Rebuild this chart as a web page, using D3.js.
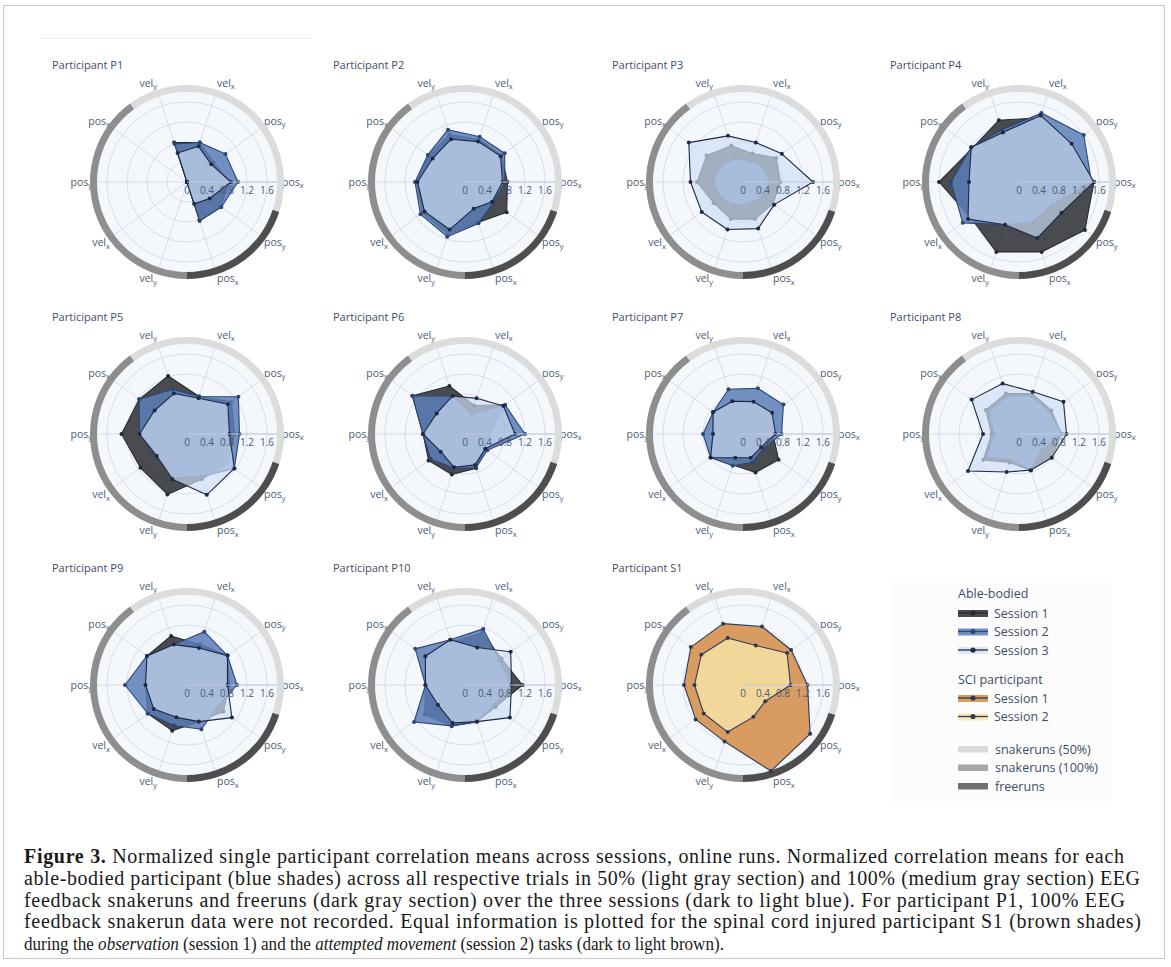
<!DOCTYPE html>
<html>
<head>
<meta charset="utf-8">
<script src="https://cdn.jsdelivr.net/npm/d3@7"></script>
<style>
  body { margin: 0; background: #ffffff; }
  svg { display: block; }
</style>
</head>
<body>
<svg id="fig" width="1171" height="967"></svg>
<script>
// ---- angular categories (10 spokes, counter-clockwise from east) ----
const axisVars = ['pos', 'pos', 'vel', 'vel', 'pos', 'pos', 'vel', 'vel', 'pos', 'pos'];
const axisDims = ['x', 'y', 'x', 'y', 'x', 'y', 'x', 'y', 'x', 'y'];

// run-type sections around the rim: [first index, last index]
const sectionNames = ['snakeruns (50%)', 'snakeruns (100%)', 'freeruns'];
const sectionSpans = [[0, 3], [4, 7], [8, 9]];

// radial axis
const radialMax = 1.8;
const radialTicks = [0, 0.4, 0.8, 1.2, 1.6];

// able-bodied participants
const participants = ['P1', 'P2', 'P3', 'P4', 'P5', 'P6', 'P7', 'P8', 'P9', 'P10'];

const session1 = [
  [0.85, 0.66, 0.83, 0.83, 0, 0, 0, 0, 0.80, 0.84],
  [0.85, 0.90, 0.90, 1.00, 0.90, 0.97, 1.05, 1.10, 0.85, 1.03],
  [0.75, 0.82, 0.60, 0.76, 0.90, 0.92, 0.72, 0.78, 0.78, 0.74],
  [1.50, 1.25, 1.35, 1.30, 1.15, 1.60, 1.20, 1.47, 1.47, 1.63],
  [0.95, 1.10, 0.79, 1.22, 1.18, 1.31, 1.15, 1.27, 0.95, 1.00],
  [0.50, 0.99, 0.60, 1.01, 1.30, 0.84, 0.90, 0.85, 0.72, 0.50],
  [0.60, 0.70, 0.68, 0.69, 0.74, 0.60, 0.80, 0.65, 0.81, 0.88],
  [0.85, 0.80, 0.85, 0.85, 0.82, 0.55, 0.88, 0.60, 0.76, 0.80],
  [0.85, 1.00, 0.85, 1.03, 0.99, 0.83, 0.97, 0.96, 0.77, 0.90],
  [1.15, 0.90, 1.10, 0.90, 0.98, 0.79, 1.00, 0.86, 0.77, 0.75]
];
const session2 = [
  [1.02, 0.95, 0.83, 0.80, 0, 0, 0, 0, 0.82, 0.85],
  [0.80, 0.98, 0.95, 1.10, 0.92, 1.00, 1.10, 1.15, 0.87, 0.70],
  [0.55, 0.50, 0.45, 0.50, 0.55, 0.60, 0.55, 0.50, 0.45, 0.50],
  [1.45, 1.60, 1.45, 1.10, 1.18, 1.36, 1.39, 0.90, 0.85, 0.80],
  [1.05, 1.27, 0.79, 0.94, 1.18, 0.95, 0.73, 0.92, 0.90, 1.17],
  [1.20, 0.99, 0.42, 0.80, 1.30, 0.84, 0.85, 0.72, 0.71, 0.55],
  [0.77, 1.00, 0.96, 0.94, 0.74, 0.80, 0.80, 0.67, 0.60, 0.50],
  [0.87, 0.75, 0.80, 0.80, 0.75, 0.50, 0.80, 0.55, 0.76, 0.55],
  [1.00, 1.00, 1.12, 0.85, 0.99, 1.24, 0.97, 0.85, 0.93, 0.75],
  [0.93, 0.85, 1.18, 0.95, 1.23, 0.79, 1.26, 0.86, 0.77, 0.70]
];
const session3 = [
  [0.88, 0.60, 0.75, 0.61, 0, 0, 0, 0, 0.46, 0.56],
  [0.75, 0.88, 0.85, 0.90, 0.80, 0.95, 1.00, 1.00, 0.56, 0.67],
  [1.40, 0.96, 0.83, 0.97, 1.34, 1.05, 1.02, 1.00, 0.98, 0.77],
  [1.50, 1.30, 1.40, 1.04, 1.18, 1.00, 1.26, 0.90, 1.18, 1.05],
  [0.85, 1.01, 0.75, 0.85, 0.80, 0.95, 0.75, 0.95, 1.28, 1.17],
  [1.00, 0.95, 0.75, 0.80, 0.70, 0.84, 0.60, 0.70, 0.65, 0.50],
  [0.65, 0.72, 0.68, 0.69, 0.74, 0.60, 0.80, 0.50, 0.50, 0.45],
  [0.95, 1.10, 0.89, 1.06, 1.17, 0.72, 1.26, 0.80, 0.76, 0.81],
  [0.81, 1.00, 0.78, 0.85, 0.99, 0.83, 0.82, 0.68, 0.77, 1.11],
  [0.93, 1.13, 0.79, 0.95, 0.98, 0.79, 0.67, 0.80, 0.77, 1.11]
];

// spinal cord injured participant
const sciName = 'S1';
const sciSession1 = [1.29, 1.19, 1.23, 1.29, 1.29, 1.18, 1.17, 1.19, 1.81, 1.66];
const sciSession2 = [0.95, 1.09, 0.83, 0.99, 1.03, 0.97, 0.97, 0.99, 0.67, 0.55];

// legend texts
const legendGroups = ['Able-bodied', 'SCI participant'];
const ableLabels = ['Session 1', 'Session 2', 'Session 3'];
const sciLabels = ['Session 1', 'Session 2'];

// caption
const captionLines = [
  [['Figure 3.', 'b'], [' Normalized single participant correlation means across sessions, online runs. Normalized correlation means for each', '']],
  [['able-bodied participant (blue shades) across all respective trials in 50% (light gray section) and 100% (medium gray section) EEG', '']],
  [['feedback snakeruns and freeruns (dark gray section) over the three sessions (dark to light blue). For participant P1, 100% EEG', '']],
  [['feedback snakerun data were not recorded. Equal information is plotted for the spinal cord injured participant S1 (brown shades)', '']],
  [['during the ', ''], ['observation', 'i'], [' (session 1) and the ', ''], ['attempted movement', 'i'], [' (session 2) tasks (dark to light brown).', '']]
];
const captionWidths = [1100, 1116, 1101, 1117, 700];

// ---- styling ----
const ableStyle = [
  { fill: '#3a3c42', op: 0.92, line: '#272a30' },
  { fill: '#5c7eb8', op: 0.85, line: '#2c4674' },
  { fill: '#cfdef3', op: 0.68, line: '#1d2a45' }
];
const sciStyle = [
  { fill: '#d6965a', op: 0.95, line: '#2f3a52' },
  { fill: '#f8e4a8', op: 0.82, line: '#2f3a52' }
];
const sectionColors = ['#dcdcdc', '#8e8e8e', '#4e4e4e'];
const legendSectionColors = ['#dadada', '#a8a8a8', '#707070'];
const gridColor = '#cfd6e6';
const polarBg = '#f4f7fb';
const textColor = '#4c5b78';
const uiFont = "'Open Sans', 'Noto Sans', sans-serif";

const colX = [187, 465, 743, 1019];
const rowY = [182, 434, 685];
const titleX = [52, 333, 612, 890];

const svg = d3.select('#fig');

// outer frame
svg.append('rect')
  .attr('x', 3.5).attr('y', 5.5).attr('width', 1161).attr('height', 953)
  .attr('fill', '#ffffff').attr('stroke', '#c9c9c9').attr('stroke-width', 1);
svg.append('line')
  .attr('x1', 40).attr('x2', 312).attr('y1', 38.5).attr('y2', 38.5)
  .attr('stroke', '#f0f0f0');

// scales
const rScale = d3.scaleLinear().domain([0, radialMax]).range([0, 90]);
const angleScale = d3.scaleLinear().domain([0, axisVars.length]).range([0, 2 * Math.PI]);
// d3 radial helpers measure angles clockwise from 12 o'clock
const d3Angle = i => Math.PI / 2 - angleScale(i);

function labelDy(s) {
  if (s > 0.9) return -6;
  if (s > 0.1) return -2;
  if (s < -0.9) return 11;
  if (s < -0.1) return 9;
  return 3.5;
}

function drawPolar(cx, cy, title, tx, seriesList, styles) {
  const g = svg.append('g').attr('transform', `translate(${cx},${cy})`);
  const rOuter = rScale(radialMax);

  // title
  svg.append('text')
    .attr('x', tx).attr('y', cy - 113)
    .attr('font-family', uiFont).attr('font-size', 11)
    .attr('fill', '#3f4d68')
    .text('Participant ' + title);

  // background disk
  g.append('circle').attr('r', rOuter).attr('fill', polarBg);

  // grid circles
  g.selectAll('circle.grid')
    .data(radialTicks.filter(t => t > 0))
    .join('circle')
    .attr('class', 'grid')
    .attr('r', d => rScale(d))
    .attr('fill', 'none').attr('stroke', gridColor).attr('stroke-width', 0.8);

  // spokes
  g.selectAll('line.spoke')
    .data(axisVars.map((d, i) => i))
    .join('line')
    .attr('class', 'spoke')
    .attr('x1', 0).attr('y1', 0)
    .attr('x2', i => rOuter * Math.cos(angleScale(i)))
    .attr('y2', i => -rOuter * Math.sin(angleScale(i)))
    .attr('stroke', gridColor).attr('stroke-width', 0.8);

  // angular tick labels
  const labR = 94;
  const lab = g.selectAll('text.ang')
    .data(axisVars.map((d, i) => i))
    .join('text')
    .attr('class', 'ang')
    .attr('font-family', uiFont).attr('font-size', 10.5)
    .attr('fill', textColor)
    .attr('x', i => {
      const c = Math.cos(angleScale(i));
      return labR * c + (c > 0.1 ? 1 : c < -0.1 ? -1 : 0);
    })
    .attr('y', i => {
      const s = Math.sin(angleScale(i));
      return -labR * s + labelDy(s);
    })
    .attr('text-anchor', i => {
      const c = Math.cos(angleScale(i));
      return c > 0.1 ? 'start' : c < -0.1 ? 'end' : 'middle';
    });
  lab.append('tspan').text(i => axisVars[i]);
  lab.append('tspan').attr('font-size', 7.5).attr('dy', 2.5).text(i => axisDims[i]);

  // rim sections
  const arc = d3.arc().innerRadius(rOuter).outerRadius(rOuter + 7);
  const step = angleScale(1);
  g.selectAll('path.section')
    .data(sectionSpans)
    .join('path')
    .attr('class', 'section')
    .attr('d', (s) => arc({
      startAngle: d3Angle(s[1]) - step / 2,
      endAngle: d3Angle(s[0]) + step / 2
    }))
    .attr('fill', (s, k) => sectionColors[k]);

  // series areas
  const line = d3.lineRadial()
    .angle((d, i) => d3Angle(i))
    .radius(d => rScale(d))
    .curve(d3.curveLinearClosed);
  seriesList.forEach((vals, k) => {
    const st = styles[k];
    g.append('path')
      .attr('d', line(vals))
      .attr('fill', st.fill).attr('fill-opacity', st.op)
      .attr('stroke', st.line).attr('stroke-width', 1.1)
      .attr('stroke-linejoin', 'round');
    g.selectAll(null)
      .data(vals)
      .join('circle')
      .attr('cx', (d, i) => rScale(d) * Math.cos(angleScale(i)))
      .attr('cy', (d, i) => -rScale(d) * Math.sin(angleScale(i)))
      .attr('r', 2)
      .attr('fill', st.line);
  });

  // radial axis line + tick labels
  g.append('line')
    .attr('x1', 0).attr('y1', 0).attr('x2', rOuter).attr('y2', 0)
    .attr('stroke', '#c3cbdb').attr('stroke-width', 1);
  g.selectAll('text.rad')
    .data(radialTicks)
    .join('text')
    .attr('class', 'rad')
    .attr('x', d => rScale(d))
    .attr('y', 12)
    .attr('text-anchor', 'middle')
    .attr('font-family', uiFont).attr('font-size', 10)
    .attr('fill', textColor)
    .text(d => d === 0 ? '0' : d3.format('.1f')(d));
}

// able-bodied panels
participants.forEach((p, idx) => {
  const c = idx % 4, r = Math.floor(idx / 4);
  drawPolar(colX[c], rowY[r], p, titleX[c],
    [session1[idx], session2[idx], session3[idx]], ableStyle);
});
// SCI panel
drawPolar(colX[2], rowY[2], sciName, titleX[2], [sciSession1, sciSession2], sciStyle);

// ---- legend ----
const lg = svg.append('g');
lg.append('rect').attr('x', 893).attr('y', 582).attr('width', 218).attr('height', 224)
  .attr('fill', '#fcfcfc');
const lx = 958, tx0 = 994;
function legendText(y, t, x) {
  lg.append('text').attr('x', x).attr('y', y + 4.5)
    .attr('font-family', uiFont).attr('font-size', 12.5)
    .attr('fill', '#3f4d68').text(t);
}
function sessionSwatch(y, st) {
  lg.append('rect').attr('x', lx).attr('y', y - 3).attr('width', 30).attr('height', 7)
    .attr('fill', st.fill).attr('fill-opacity', st.op);
  lg.append('line').attr('x1', lx).attr('x2', lx + 30).attr('y1', y).attr('y2', y)
    .attr('stroke', st.line).attr('stroke-width', 1.3);
  lg.append('circle').attr('cx', lx + 15).attr('cy', y).attr('r', 2.6).attr('fill', st.line);
}
legendText(593, legendGroups[0], lx);
ableLabels.forEach((t, k) => {
  const y = 613 + k * 18.5;
  sessionSwatch(y, ableStyle[k]);
  legendText(y, t, tx0);
});
legendText(679, legendGroups[1], lx);
sciLabels.forEach((t, k) => {
  const y = 698 + k * 18.5;
  sessionSwatch(y, sciStyle[k]);
  legendText(y, t, tx0);
});
sectionNames.forEach((t, k) => {
  const y = 749 + k * 18.5;
  lg.append('rect').attr('x', lx).attr('y', y - 3).attr('width', 30).attr('height', 6.5)
    .attr('fill', legendSectionColors[k]);
  legendText(y, t, tx0 + 1);
});

// ---- caption ----
const capFont = "'Liberation Serif', 'DejaVu Serif', serif";
captionLines.forEach((parts, k) => {
  const last = k === captionLines.length - 1;
  const t = svg.append('text')
    .attr('x', 24).attr('y', 863 + k * 21.8)
    .attr('font-family', capFont).attr('font-size', last ? 18.5 : 20)
    .attr('fill', '#1a1a1a')
    .attr('textLength', captionWidths[k])
    .attr('lengthAdjust', last ? 'spacingAndGlyphs' : 'spacing');
  parts.forEach(([s, f]) => {
    const sp = t.append('tspan').text(s);
    if (f === 'b') sp.attr('font-weight', 'bold');
    if (f === 'i') sp.attr('font-style', 'italic');
  });
});
</script>
</body>
</html>
